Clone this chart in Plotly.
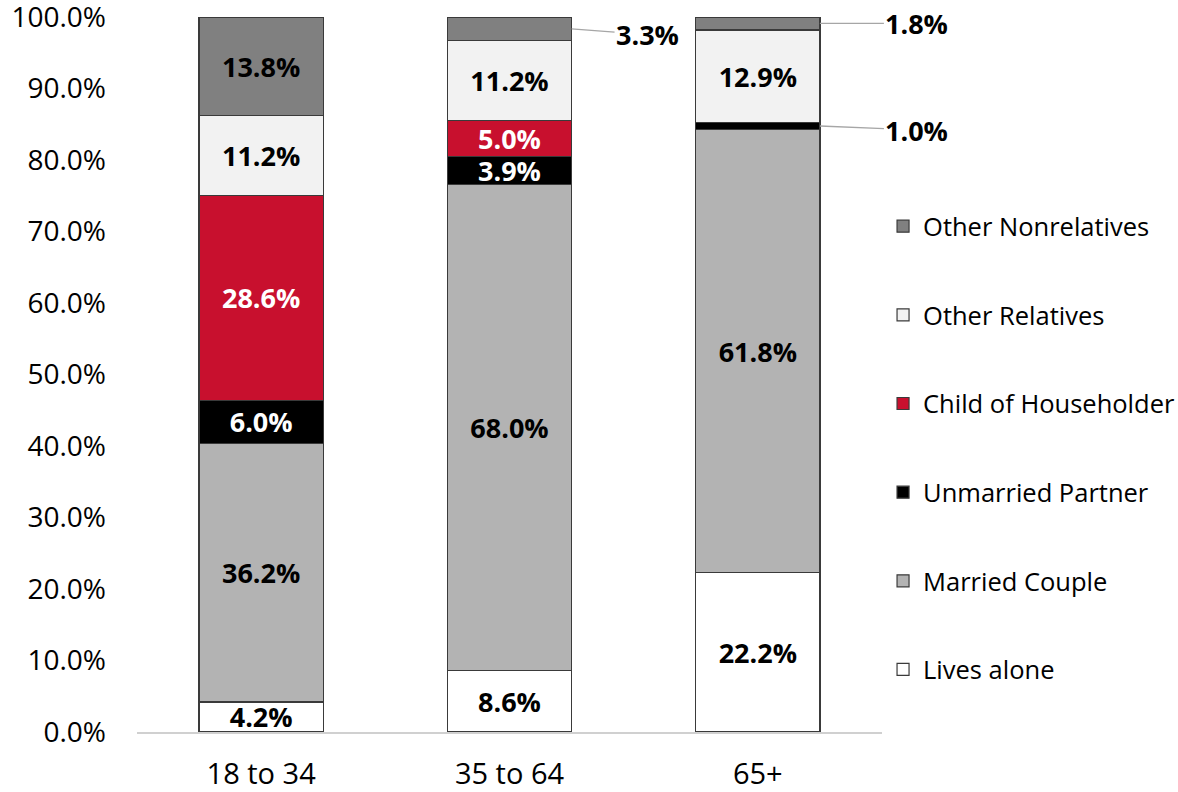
import plotly.graph_objects as go

categories = ["18 to 34", "35 to 64", "65+"]
series_names = ["Lives alone", "Married Couple", "Unmarried Partner",
                "Child of Householder", "Other Relatives", "Other Nonrelatives"]
lives_alone = [4.2, 8.6, 22.2]
married_couple = [36.2, 68.0, 61.8]
unmarried_partner = [6.0, 3.9, 1.0]
child_of_householder = [28.6, 5.0, 0.0]
other_relatives = [11.2, 11.2, 12.9]
other_nonrelatives = [13.8, 3.3, 1.8]
y_tick_values = [0, 10, 20, 30, 40, 50, 60, 70, 80, 90, 100]
y_tick_labels = ["0.0%", "10.0%", "20.0%", "30.0%", "40.0%", "50.0%",
                 "60.0%", "70.0%", "80.0%", "90.0%", "100.0%"]

series_values = [lives_alone, married_couple, unmarried_partner,
                 child_of_householder, other_relatives, other_nonrelatives]
fill_colors = ["#ffffff", "#b3b3b3", "#000000", "#c8102e", "#f2f2f2", "#808080"]
text_colors = ["#000000", "#000000", "#ffffff", "#ffffff", "#000000", "#000000"]

FONT = "Open Sans"
INSIDE_MIN = 3.5
BAR_HALF = 0.25
LABEL_SIZE = 27

totals = [sum(s[i] for s in series_values) for i in range(len(categories))]

fig = go.Figure()
for k, (name, vals) in enumerate(zip(series_names, series_values)):
    labels = [f"{v:.1f}%" if v >= INSIDE_MIN else "" for v in vals]
    fig.add_trace(go.Bar(
        x=categories, y=vals, name=name,
        marker=dict(color=fill_colors[k], line=dict(color="#3a3a3a", width=1.2)),
        text=labels, textposition="inside", insidetextanchor="middle",
        textangle=0, constraintext="none",
        textfont=dict(family=FONT, size=LABEL_SIZE, color=text_colors[k], weight="bold"),
        legendgroup=name, legendrank=100 - k, hoverinfo="skip",
    ))

# outside labels with leader lines for small segments
offsets = {(1, 5): (76, 6), (2, 5): (97, 0), (2, 2): (97, 4)}
for (ci, si), (ax, ay) in offsets.items():
    v = series_values[si][ci]
    cum = sum(series_values[j][ci] for j in range(si)) + v / 2
    yv = cum / totals[ci] * 100
    fig.add_annotation(
        x=ci + BAR_HALF, y=yv, xref="x", yref="y",
        text=f"<b>{v:.1f}%</b>", showarrow=True, arrowhead=0,
        arrowwidth=1.3, arrowcolor="#a6a6a6", ax=ax, ay=ay,
        standoff=0, startstandoff=0,
        font=dict(family=FONT, size=LABEL_SIZE, color="#000000"),
    )

fig.update_layout(
    barmode="stack", barnorm="percent", bargap=0.5,
    width=1178, height=792,
    margin=dict(l=137, r=296, t=17, b=60, autoexpand=False),
    paper_bgcolor="white", plot_bgcolor="white",
    font=dict(family=FONT, size=26, color="#000000"),
    showlegend=True,
    legend=dict(x=1.0014, xanchor="left", y=0.397, yanchor="middle",
                traceorder="grouped", tracegroupgap=52.5,
                font=dict(family=FONT, size=25.5, color="#000000"),
                itemwidth=30),
)
fig.update_xaxes(range=[-0.5, len(categories) - 0.5],
                 showline=True, linecolor="#d0d0d0", linewidth=1.5,
                 ticks="", ticklabelstandoff=15, showgrid=False, automargin=False,
                 tickfont=dict(family=FONT, size=29))
fig.update_yaxes(range=[0, 100], tickvals=y_tick_values, ticktext=y_tick_labels,
                 showgrid=False, zeroline=False, showline=False, ticks="",
                 automargin=False, ticklabeloverflow="allow",
                 ticklabelstandoff=30, tickfont=dict(family=FONT, size=28))

fig.write_html(
    "out.html",
    config={"displayModeBar": False},
    post_script="document.body.style.margin='0';document.body.style.overflow='hidden';",
)
